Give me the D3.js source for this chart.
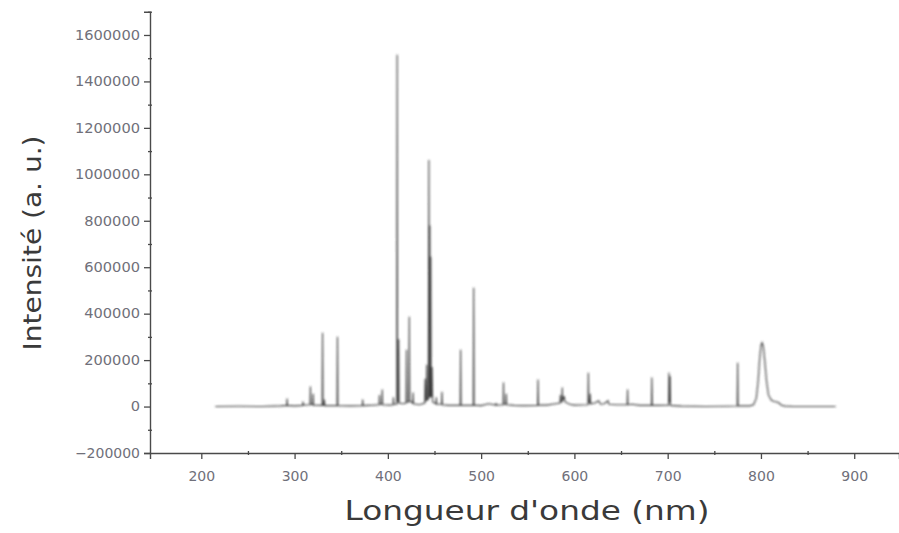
<!DOCTYPE html>
<html>
<head>
<meta charset="utf-8">
<script src="https://cdn.jsdelivr.net/npm/d3@7"></script>
<style>
  html, body { margin: 0; padding: 0; background: #fff; }
  svg { display: block; }
</style>
</head>
<body>
<svg id="chart" width="899" height="533"></svg>
<script>
// Emission spectrum: [wavelength (nm), intensity (a. u.)]
const spectrum = [
  [215, 0], [240, 1000], [265, 0], [285, 3000],
  [291.6, 5000], [292, 35000], [292.4, 5000], [300, 3000],
  [308.6, 5000], [309, 22000], [309.4, 6000],
  [316.6, 8000], [317, 86000], [317.4, 10000],
  [319.6, 8000], [320, 55000], [320.4, 6000],
  [329.6, 5000], [330, 318000], [330.4, 6000],
  [331.6, 5000], [332, 30000], [332.4, 4000],
  [345.6, 4000], [346, 301000], [346.4, 4000], [360, 3000],
  [372.6, 4000], [373, 30000], [373.4, 4000], [385, 6000],
  [390.6, 8000], [391, 50000], [391.4, 10000],
  [393.6, 10000], [394, 73000], [394.4, 8000], [402, 6000],
  [405.6, 8000], [406, 40000], [406.4, 10000],
  [409.6, 10000], [410, 1515000], [410.4, 20000],
  [411.2, 20000], [411.6, 290000], [412, 15000], [416, 12000],
  [419.6, 15000], [420, 245000], [420.4, 20000],
  [422.6, 20000], [423, 387000], [423.4, 25000],
  [426.6, 15000], [427, 60000], [427.4, 12000], [434, 8000],
  [439.6, 15000], [440, 120000], [440.4, 20000],
  [441.2, 30000], [441.6, 180000], [442, 30000],
  [443.4, 30000], [444, 1062000], [444.4, 40000],
  [444.6, 40000], [445, 780000], [445.4, 40000],
  [445.6, 60000], [446, 645000], [446.4, 60000],
  [446.8, 40000], [447.4, 170000], [448, 20000],
  [451.6, 12000], [452, 40000], [452.4, 10000],
  [457.6, 10000], [458, 64000], [458.4, 8000], [465, 5000],
  [477.6, 6000], [478, 245000], [478.4, 6000], [485, 5000],
  [491.6, 5000], [492, 512000], [492.4, 6000], [500, 4000], [508, 12000],
  [515.6, 6000], [516, 15000], [516.4, 6000],
  [523.6, 8000], [524, 103000], [524.4, 10000],
  [526.6, 10000], [527, 55000], [527.4, 8000], [535, 5000], [545, 4000],
  [560.6, 5000], [561, 116000], [561.4, 6000], [570, 6000], [580, 12000],
  [584.6, 15000], [585, 50000], [585.4, 20000],
  [586.6, 20000], [587, 82000], [587.4, 25000],
  [589, 45000], [590, 20000], [595, 10000], [600, 6000],
  [614.6, 8000], [615, 146000], [615.4, 15000],
  [616.6, 15000], [617, 55000], [617.4, 12000],
  [622, 15000], [626, 25000], [628, 10000], [632, 12000], [636, 25000], [637, 10000], [645, 8000],
  [656.6, 8000], [657, 73000], [657.4, 8000], [662, 10000], [670, 5000],
  [682.6, 5000], [683, 125000], [683.4, 6000], [690, 5000],
  [701, 6000], [701.4, 146000], [701.8, 20000],
  [702.2, 20000], [702.6, 130000], [703, 5000],
  [715, 2000], [740, 0], [765, 1000],
  [774.6, 2000], [775, 189000], [775.4, 3000],
  [788, 3000], [792, 8000], [795, 35000], [797, 110000], [798.5, 200000],
  [800, 262000], [801.2, 275000], [802.5, 260000], [804, 200000], [806, 110000],
  [808, 50000], [811, 28000], [814, 22000], [817, 20000], [819, 16000],
  [822, 6000], [826, 2000], [835, 0], [860, 0], [880, 0]
];

const xTickValues = [200, 300, 400, 500, 600, 700, 800, 900];
const xMinorValues = [250, 350, 450, 550, 650, 750, 850];
const yTickValues = [-200000, 0, 200000, 400000, 600000, 800000, 1000000, 1200000, 1400000, 1600000];
const yMinorValues = [-100000, 100000, 300000, 500000, 700000, 900000, 1100000, 1300000, 1500000, 1700000];

const xTitle = "Longueur d'onde (nm)";
const yTitle = "Intensité (a. u.)";

const svg = d3.select("#chart");

const x = d3.scaleLinear().domain([145, 948]).range([150, 899]);
const y = d3.scaleLinear().domain([-200000, 1700000]).range([453, 11.75]);

const defs = svg.append("defs");
defs.append("filter").attr("id", "soft")
  .attr("filterUnits", "userSpaceOnUse")
  .attr("x", 0).attr("y", 0).attr("width", 899).attr("height", 533)
  .append("feGaussianBlur").attr("stdDeviation", 1.0);

// spectrum trace
const line = d3.line().x(d => x(d[0])).y(d => y(d[1]));
svg.append("path")
  .datum(spectrum)
  .attr("d", line)
  .attr("fill", "none")
  .attr("stroke", "#3c3c3c")
  .attr("stroke-width", 1.1)
  .attr("filter", "url(#soft)");

const axisColor = "#4a4a4a";
const tickFont = "'DejaVu Sans', sans-serif";

// y axis
const yAxis = svg.append("g").attr("transform", "translate(150,0)")
  .call(d3.axisLeft(y).tickValues(yTickValues).tickFormat(d3.format("d")).tickSize(6).tickPadding(4));
svg.append("g").attr("transform", "translate(152,0)")
  .call(d3.axisLeft(y).tickValues(yMinorValues).tickFormat("").tickSize(4))
  .select(".domain").remove();

// x axis
const xAxis = svg.append("g").attr("transform", "translate(0,453)")
  .call(d3.axisBottom(x).tickValues(xTickValues).tickFormat(d3.format("d")).tickSize(6).tickPadding(12));
svg.append("g").attr("transform", "translate(0,451)")
  .call(d3.axisBottom(x).tickValues(xMinorValues).tickFormat("").tickSize(4))
  .select(".domain").remove();

svg.selectAll(".domain").attr("stroke", axisColor).attr("stroke-width", 1.4);
svg.selectAll(".tick line").attr("stroke", axisColor).attr("stroke-width", 1.3);

yAxis.selectAll(".tick text")
  .attr("font-family", tickFont).attr("font-size", 13.5)
  .attr("fill", "#70707a").attr("textLength", function(d) { return String(d).length * 9.3; })
  .attr("lengthAdjust", "spacingAndGlyphs");
xAxis.selectAll(".tick text")
  .attr("font-family", tickFont).attr("font-size", 14)
  .attr("fill", "#70707a");

// axis titles
svg.append("text")
  .attr("x", 527).attr("y", 520)
  .attr("text-anchor", "middle")
  .attr("font-family", "'DejaVu Sans', sans-serif")
  .attr("font-size", 26)
  .attr("fill", "#3a3a3a")
  .attr("textLength", 365).attr("lengthAdjust", "spacingAndGlyphs")
  .text(xTitle);

svg.append("text")
  .attr("transform", "translate(41,243) rotate(-90)")
  .attr("text-anchor", "middle")
  .attr("font-family", "'DejaVu Sans', sans-serif")
  .attr("font-size", 25)
  .attr("fill", "#3a3a3a")
  .attr("textLength", 215).attr("lengthAdjust", "spacingAndGlyphs")
  .text(yTitle);
</script>
</body>
</html>
